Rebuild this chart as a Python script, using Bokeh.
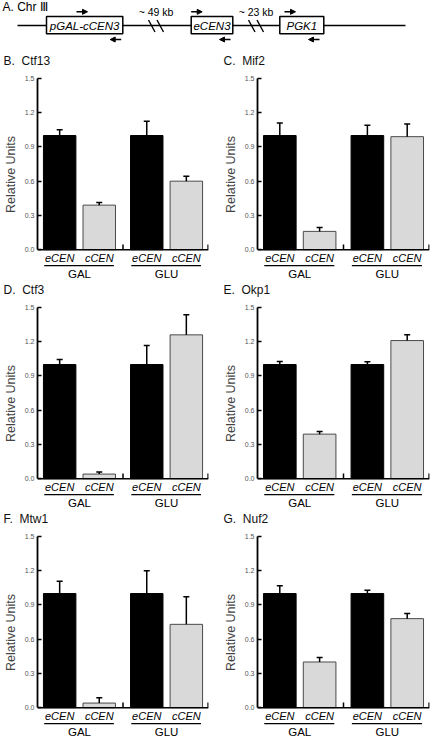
from bokeh.plotting import figure
from bokeh.models import (FactorRange, Range1d, ColumnDataSource, Whisker, TeeHead,
                          FixedTicker, PrintfTickFormatter, Arrow, NormalHead, Span)
from bokeh.layouts import row, column
from bokeh.core.properties import value
from bokeh.embed import file_html
from bokeh.resources import INLINE

FONT = value("Liberation Sans")

# ---------------- data ----------------
conditions = ["GAL", "GLU"]
loci = ["eCEN", "cCEN"]
panel_letters = ["B.", "C.", "D.", "E.", "F.", "G."]
proteins = ["Ctf13", "Mif2", "Ctf3", "Okp1", "Mtw1", "Nuf2"]

# order: GAL-eCEN, GAL-cCEN, GLU-eCEN, GLU-cCEN
ctf13 = [1.00, 0.39, 1.00, 0.60]
ctf13_err = [0.05, 0.023, 0.126, 0.044]
mif2 = [1.00, 0.16, 1.00, 0.99]
mif2_err = [0.11, 0.035, 0.09, 0.11]
ctf3 = [1.00, 0.04, 1.00, 1.26]
ctf3_err = [0.045, 0.018, 0.167, 0.176]
okp1 = [1.00, 0.39, 1.00, 1.21]
okp1_err = [0.027, 0.023, 0.024, 0.05]
mtw1 = [1.00, 0.04, 1.00, 0.73]
mtw1_err = [0.108, 0.046, 0.20, 0.242]
nuf2 = [1.00, 0.40, 1.00, 0.78]
nuf2_err = [0.069, 0.04, 0.028, 0.044]

all_vals = [ctf13, mif2, ctf3, okp1, mtw1, nuf2]
all_errs = [ctf13_err, mif2_err, ctf3_err, okp1_err, mtw1_err, nuf2_err]

y_ticks = [0.0, 0.3, 0.6, 0.9, 1.2, 1.5]
y_label = "Relative Units"

# schematic (panel A)
chrom_label = "A. Chr \u2162"
features = ["pGAL-cCEN3", "eCEN3", "PGK1"]
gap_labels = ["~ 49 kb", "~ 23 kb"]

# ---------------- layout constants ----------------
PX_PER_UNIT = 172.0 / 1.5
BELOW_PX = 30.0
ABOVE_PX = 9.0
TOP = 18
PANEL_H = TOP + int(172 + BELOW_PX + ABOVE_PX)
Y0 = -BELOW_PX / PX_PER_UNIT
Y1 = 1.5 + ABOVE_PX / PX_PER_UNIT
BAR_W = 0.82
FRAME_W = 172


def bar_panel(letter, name, vals, errs, left, right):
    factors = [(c, l) for c in conditions for l in loci]
    xr = FactorRange(*factors, factor_padding=0.0, group_padding=0.2,
                     range_padding=0.06, range_padding_units="absolute")
    p = figure(x_range=xr, y_range=Range1d(Y0, Y1), width=left + FRAME_W + right,
               height=PANEL_H, output_backend="svg", toolbar_location=None,
               x_axis_type=None, min_border_left=left, min_border_right=right,
               min_border_top=TOP, min_border_bottom=0)
    p.grid.visible = False
    p.outline_line_color = None
    p.background_fill_color = "white"

    p.title.text = f"{letter}\u00a0\u00a0{name}"
    p.title.text_font = "Liberation Sans"
    p.title.text_font_size = "12px"
    p.title.text_font_style = "normal"
    p.title.text_color = "#111111"
    p.title.align = "left"
    p.title.offset = -34
    p.title.standoff = 3

    fills = ["black" if l == "eCEN" else "#d9d9d9" for c, l in factors]
    lines = ["black" if l == "eCEN" else "#4a4a4a" for c, l in factors]
    src = ColumnDataSource(dict(x=factors, top=vals, fill=fills, lc=lines,
                                upper=[v + e for v, e in zip(vals, errs)]))
    p.vbar(x="x", top="top", bottom=0, width=BAR_W, source=src,
           fill_color="fill", line_color="lc", line_width=1)

    w = Whisker(base="x", lower="top", upper="upper", source=src, dimension="height",
                lower_head=None,
                upper_head=TeeHead(size=6, line_width=1.5, line_color="black"),
                line_width=1.5, line_color="black", level="annotation")
    p.add_layout(w)

    # baseline with group-break ticks
    p.add_layout(Span(location=0, dimension="width", line_color="black", line_width=1.5))
    tick_x = [(conditions[0], loci[1], 0.6), (conditions[1], loci[1], 0.55)]
    p.segment(x0=tick_x, y0=[0, 0], x1=tick_x, y1=[0.045, 0.045],
              line_color="black", line_width=1.5)

    # category labels
    p.text(x=factors, y=[-8.5 / PX_PER_UNIT] * 4, text=[l for c, l in factors],
           text_font=FONT, text_font_size="11px", text_font_style="italic",
           text_align="center", text_baseline="middle", text_color="black")
    ul_x0 = [(c, loci[0], -0.39) for c in conditions]
    ul_x1 = [(c, loci[1], 0.37) for c in conditions]
    p.segment(x0=ul_x0, y0=[-16.0 / PX_PER_UNIT] * 2, x1=ul_x1, y1=[-16.0 / PX_PER_UNIT] * 2,
              line_color="black", line_width=1.2)
    p.text(x=conditions, y=[-24.0 / PX_PER_UNIT] * 2, text=conditions,
           text_font=FONT, text_font_size="11.5px", text_align="center",
           text_baseline="middle", text_color="black")

    ax = p.yaxis[0]
    ax.ticker = FixedTicker(ticks=y_ticks)
    ax.formatter = PrintfTickFormatter(format="%.1f")
    ax.bounds = (0, 1.5)
    ax.major_tick_in = 4
    ax.major_tick_out = 0
    ax.minor_tick_line_color = None
    ax.axis_line_width = 1.8
    ax.major_tick_line_width = 1.5
    ax.major_label_text_font = "Liberation Sans"
    ax.major_label_text_font_size = "7px"
    ax.major_label_text_color = "#555555"
    ax.major_label_standoff = 3
    ax.axis_label = y_label
    ax.axis_label_text_font = "Liberation Sans"
    ax.axis_label_text_font_size = "12.5px"
    ax.axis_label_text_font_style = "normal"
    ax.axis_label_standoff = 4
    return p


# ---------------- schematic ----------------
d = figure(width=430, height=50, x_range=Range1d(0, 430), y_range=Range1d(50, 0),
           output_backend="svg", toolbar_location=None, x_axis_type=None,
           y_axis_type=None, min_border=0)
d.grid.visible = False
d.outline_line_color = None

feat_left = [46, 190.7, 279.3]
feat_right = [122.3, 232.3, 323.3]
gap_x = [155.5, 255.5]

d.segment(x0=[17], y0=[25], x1=[405], y1=[25], line_color="black", line_width=1.5)
bx0, by0, bx1, by1 = [], [], [], []
for gx in gap_x:
    for off in (-7.5, 1.0):
        bx0.append(gx + off); by0.append(19.5)
        bx1.append(gx + off + 6.5); by1.append(31.5)
d.segment(x0=bx0, y0=by0, x1=bx1, y1=by1, line_color="black", line_width=1.4)
d.quad(left=feat_left, right=feat_right, top=[16] * 3, bottom=[33.3] * 3,
       fill_color="white", line_color="black", line_width=1.5)
d.text(x=[(a + b) / 2 for a, b in zip(feat_left, feat_right)], y=[25] * 3, text=features,
       text_font=FONT, text_font_size="11.5px", text_font_style="italic",
       text_align="center", text_baseline="middle")
d.text(x=gap_x, y=[11] * 2, text=gap_labels, text_font=FONT, text_font_size="10.5px",
       text_align="center", text_baseline="middle")
d.text(x=[2], y=[6], text=[chrom_label], text_font=FONT, text_font_size="12px",
       text_align="left", text_baseline="middle")

fwd_start = [76, 190.7, 284]
rev_start = [120.7, 230, 319]
asrc = ColumnDataSource(dict(
    xs=fwd_start + rev_start,
    xe=[x + 11 for x in fwd_start] + [x - 11 for x in rev_start],
    ys=[11.3] * 3 + [39] * 3,
))
d.add_layout(Arrow(x_start="xs", y_start="ys", x_end="xe", y_end="ys", source=asrc,
                   line_width=1.5, line_color="black",
                   end=NormalHead(size=5, fill_color="black", line_color="black")))

panels = []
for i, (lt, nm, v, e) in enumerate(zip(panel_letters, proteins, all_vals, all_errs)):
    if i % 2 == 0:
        panels.append(bar_panel(lt, nm, v, e, left=36, right=8))
    else:
        panels.append(bar_panel(lt, nm, v, e, left=41, right=1))

layout = column(d, row(panels[0], panels[1]), row(panels[2], panels[3]),
                row(panels[4], panels[5]))

open("out.html", "w").write(file_html(layout, INLINE))
